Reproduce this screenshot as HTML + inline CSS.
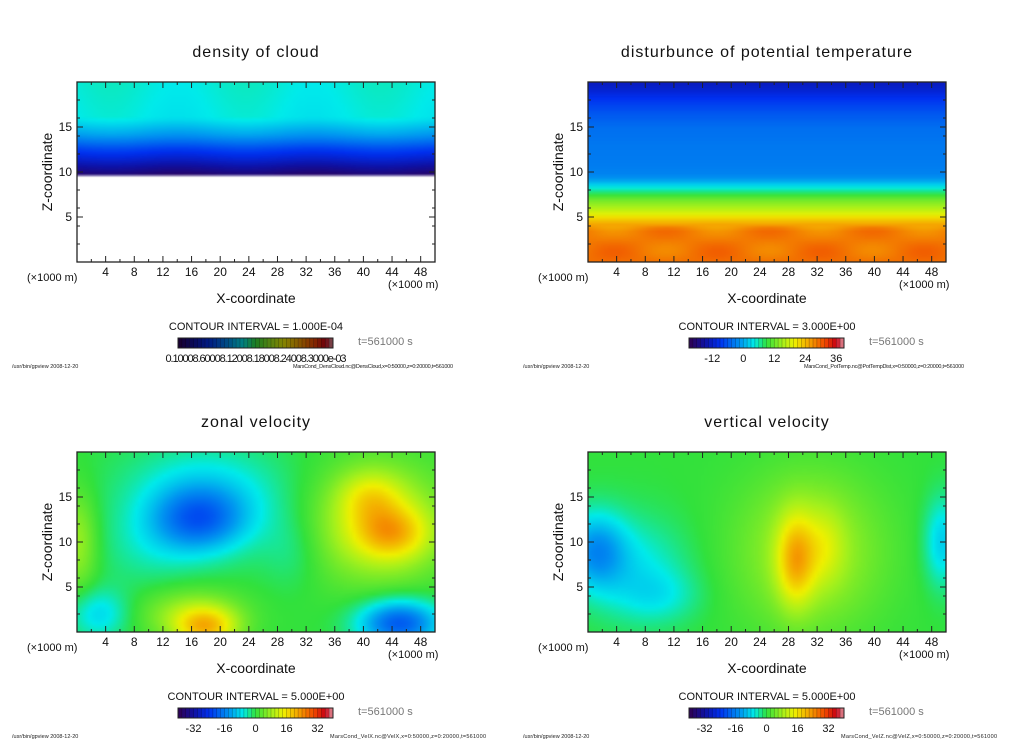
<!DOCTYPE html>
<html><head><meta charset="utf-8">
<style>
html,body{margin:0;padding:0;background:#fff;}
#root{position:relative;width:1024px;height:740px;overflow:hidden;font-family:"Liberation Sans",sans-serif;}
canvas{position:absolute;}
svg{position:absolute;left:0;top:0;}
</style></head>
<body>
<div id="root">
<svg id="svg" width="1024" height="740"></svg>
</div>
<script>
// ---- data ----
const xTicks=[4,8,12,16,20,24,28,32,36,40,44,48];
const zTicks=[5,10,15];
const titles=["density of cloud","disturbunce of potential temperature","zonal velocity","vertical velocity"];
const intervals=["CONTOUR INTERVAL = 1.000E-04","CONTOUR INTERVAL = 3.000E+00","CONTOUR INTERVAL = 5.000E+00","CONTOUR INTERVAL = 5.000E+00"];
const files=["MarsCond_DensCloud.nc@DensCloud,x=0:50000,z=0:20000,t=561000","MarsCond_PotTemp.nc@PotTempDist,x=0:50000,z=0:20000,t=561000","MarsCond_VelX.nc@VelX,x=0:50000,z=0:20000,t=561000","MarsCond_VelZ.nc@VelZ,x=0:50000,z=0:20000,t=561000"];
const ptLabels=[-12,0,12,24,36];
const velLabels=[-32,-16,0,16,32];
// potential temperature vertical profile
const ptZ=[0,3.5,4.3,5.5,7,8,9,9.6,11,13,15,16.5,18,19,20];
const ptT=[29,28,25,18,12,6,0,-2.5,-3.2,-3.5,-4.2,-6,-8.5,-11,-13];
// density profile (normalized colour fraction vs z)
const dcZ=[9.4,9.5,10,10.6,11.5,12.5,14,16,20];
const dcV=[-1,0.02,0.06,0.1,0.16,0.22,0.33,0.42,0.43];
// zonal velocity blobs: x,z,sx,sz,amp
const uBlobs=[[17,12.5,4.5,2.5,-14],[18,15,8,4,-8],[10,9,5,3,-3],[44,11,3.5,2,12],[41,15,3,2,8],[42,12,6.5,4.5,12],[18,0.5,3,1.5,16],[16,2,5,2,8],[45,1,4,1.8,-20],[0,10,2,4,8],[3,2,3,2,-8],[30,9,3,3,-3]];
// vertical velocity blobs
const wBlobs=[[1,9,3,3,-13],[7,7,5,4,-6],[49.5,10,1.8,3.5,-9],[31,9,7,6,9],[29,8,1.8,3.5,14],[33,9.5,2,3,5],[10,4,4,2,-4]];

const stops=[[0,[48,0,80]],[0.1,[16,16,160]],[0.2,[0,48,240]],[0.33,[0,150,240]],[0.42,[0,235,235]],[0.5,[50,225,60]],[0.6,[160,240,30]],[0.68,[240,240,0]],[0.78,[245,160,0]],[0.88,[240,70,0]],[0.95,[200,0,20]],[1,[225,150,160]]];
function cmap(f){if(f<0)return[255,255,255];f=Math.min(1,f);for(let i=1;i<stops.length;i++){if(f<=stops[i][0]){const a=stops[i-1],b=stops[i],t=(f-a[0])/(b[0]-a[0]);return a[1].map((v,k)=>Math.round(v+(b[1][k]-v)*t));}}return stops[stops.length-1][1];}
function interp(xs,ys,x){if(x<=xs[0])return ys[0];for(let i=1;i<xs.length;i++)if(x<=xs[i]){const t=(x-xs[i-1])/(xs[i]-xs[i-1]);return ys[i-1]+(ys[i]-ys[i-1])*t;}return ys[ys.length-1];}
function blobSum(B,x,z){let s=0;for(const b of B){s+=b[4]*Math.exp(-((x-b[0])**2/(2*b[2]*b[2])+(z-b[1])**2/(2*b[3]*b[3])));}return s;}
const fields=[
 (x,z)=>{if(z<9.5)return -1;return interp(dcZ,dcV,z)+0.01*Math.sin(x/3);},
 (x,z)=>(interp(ptZ,ptT,z)+(z<4?1.5*Math.sin(x/2.3)*Math.sin(z*1.3):0)+21)/60,
 (x,z)=>(blobSum(uBlobs,x,z)+40)/80,
 (x,z)=>(blobSum(wBlobs,x,z)+40)/80
];
const offs=[[0,0],[511,0],[0,370],[511,370]];
const X0=77,X1=435,Y0=82,Y1=262;
const sx=x=>X0+(X1-X0)*x/50, sz=z=>Y1-(Y1-Y0)*z/20;
const svg=document.getElementById('svg'),root=document.getElementById('root');
const NS="http://www.w3.org/2000/svg";
function el(t,a,p){const e=document.createElementNS(NS,t);for(const k in a)e.setAttribute(k,a[k]);(p||svg).appendChild(e);return e;}
function txt(s,a,p){const e=el('text',a,p);e.textContent=s;return e;}

offs.forEach((o,pi)=>{
 const [ox,oy]=o;
 const W=100,H=50;const sm=document.createElement('canvas');sm.width=W;sm.height=H;const sc=sm.getContext('2d');const img=sc.createImageData(W,H);
 for(let j=0;j<H;j++)for(let i=0;i<W;i++){const x=(i+0.5)*50/W,z=20-(j+0.5)*20/H;const c=cmap(fields[pi](x,z));const k=(j*W+i)*4;img.data[k]=c[0];img.data[k+1]=c[1];img.data[k+2]=c[2];img.data[k+3]=255;}
 sc.putImageData(img,0,0);
 const cv=document.createElement('canvas');cv.width=X1-X0;cv.height=Y1-Y0;cv.style.left=(ox+X0)+'px';cv.style.top=(oy+Y0)+'px';
 
 
 const cx=cv.getContext('2d');cx.imageSmoothingEnabled=true;cx.drawImage(sm,0,0,cv.width,cv.height);
 root.insertBefore(cv,svg);
 const g=el('g',{transform:`translate(${ox},${oy})`});
 
 
 const t=txt(titles[pi],{x:256,y:57,'text-anchor':'middle','font-size':16,'letter-spacing':1,fill:'#111'},g);
 
 
 el('rect',{x:X0,y:Y0,width:X1-X0,height:Y1-Y0,fill:'none',stroke:'#222','stroke-width':1.3},g);
 for(let x=2;x<50;x+=2){const L=x%4==0?6:3;el('line',{x1:sx(x),x2:sx(x),y1:Y1,y2:Y1-L,stroke:'#222'},g);el('line',{x1:sx(x),x2:sx(x),y1:Y0,y2:Y0+L,stroke:'#222'},g);}
 for(let z=2;z<20;z+=1){const maj=z%5==0;if(!maj&&z%2)continue;const L=maj?6:3;el('line',{x1:X0,x2:X0+L,y1:sz(z),y2:sz(z),stroke:'#222'},g);el('line',{x1:X1,x2:X1-L,y1:sz(z),y2:sz(z),stroke:'#222'},g);}
 xTicks.forEach(v=>{const e=txt(v,{x:sx(v),y:276,'text-anchor':'middle','font-size':12,fill:'#111'},g);});
 zTicks.forEach(v=>{const e=txt(v,{x:72,y:sz(v)+4,'text-anchor':'end','font-size':12,fill:'#111'},g);});
 txt('(×1000 m)',{x:27,y:281,'font-size':11,fill:'#111'},g);
 txt('(×1000 m)',{x:388,y:288,'font-size':11,fill:'#111'},g);
 const xt=txt('X-coordinate',{x:256,y:303,'text-anchor':'middle','font-size':14,fill:'#111'},g);
 
 const zt=txt('Z-coordinate',{x:0,y:0,'text-anchor':'middle','font-size':14,fill:'#111',transform:'translate(52,172) rotate(-90)'},g);
 
 txt(intervals[pi],{x:256,y:330,'text-anchor':'middle','font-size':11,fill:'#111'},g);
 const cb=el('g',{},g);
 const n=40,bx=178,bw=155;
 for(let i=0;i<n;i++){let c=cmap((i+0.5)/n);if(pi==0)c=c.map(v=>Math.round(v*0.55));el('rect',{x:bx+i*bw/n,y:338,width:bw/n+0.3,height:10,fill:`rgb(${c})`},cb);el('line',{x1:bx+i*bw/n,x2:bx+i*bw/n,y1:338,y2:348,stroke:'rgba(0,0,0,0.35)','stroke-width':0.6},cb);}
 el('rect',{x:bx,y:338,width:bw,height:10,fill:'none',stroke:'#222'},cb);
 if(pi==0){txt('0.10008.60008.12008.18008.24008.3000e-03',{x:256,y:362,'text-anchor':'middle','font-size':11,fill:'#111',textLength:181},g);}
 else if(pi==1){ptLabels.forEach(v=>txt(v,{x:bx+(v+21)/60*bw,y:362,'text-anchor':'middle','font-size':11,fill:'#111'},g));}
 else{velLabels.forEach(v=>txt(v,{x:bx+(v+40)/80*bw,y:362,'text-anchor':'middle','font-size':11,fill:'#111'},g));}
 txt('t=561000 s',{x:358,y:345,'font-size':11,fill:'#777'},g);
 txt('/usr/bin/gpview   2008-12-20',{x:12,y:368,'font-size':5.5,fill:'#222'},g);
 txt(files[pi],{x:pi<2?293:330,y:368,'font-size':5.5,fill:'#222',textLength:pi<2?160:156},g);
});
</script>
</body></html>
